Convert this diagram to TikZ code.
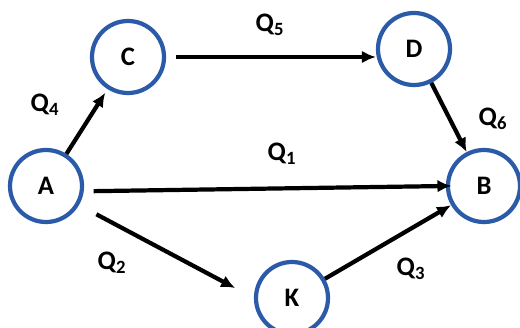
\documentclass[tikz,border=0pt]{standalone}
\usepackage{fontspec}
\setmainfont{Carlito}
\usepackage{tikz}
\usetikzlibrary{arrows.meta,positioning}
\definecolor{RingBlue}{HTML}{2B5AA8}

\begin{document}
\begin{tikzpicture}[
    x=0.025cm, y=-0.025cm,
    >={Latex[length=10pt,width=9pt]},
    every node/.style={font=\fontsize{19}{21}\selectfont\bfseries},
    vertex/.style={draw=RingBlue, circle, line width=3pt, minimum size=1.8cm, inner sep=0pt},
    flow/.style={->, line width=3pt},
    qlabel/.style={inner sep=0pt}
]
\useasboundingbox (0,0) rectangle (520,328);
\node[vertex] (a) at (46,186) {A};
\node[vertex] (c) at (128,57) {C};
\node[vertex] (d) at (414,49) {D};
\node[vertex] (b) at (484,186) {B};
\node[vertex] (k) at (292,298) {K};

\draw[flow, shorten >=3pt] (a) -- (c);
\draw[flow, shorten <=7pt] (c.east) -- (c.east -| d.west);
\draw[flow] (d) -- (b);
\draw[flow, shorten <=7pt, shorten >=-4pt] (a.-8) -- (b.west);
\draw[flow, shorten <=14pt, shorten >=15pt] (a.-30) -- (k.west);
\draw[flow] (k) -- (b);

\node[qlabel] (q4) at (45,105) {Q\textsubscript{4}};
\node[qlabel] (q5) at (270,25) {Q\textsubscript{5}};
\node[qlabel] (q1) at (282,154) {Q\textsubscript{1}};
\node[qlabel] (q6) at (493,119) {Q\textsubscript{6}};
\node[qlabel] (q2) at (112,263) {Q\textsubscript{2}};
\node[qlabel] (q3) at (411,269) {Q\textsubscript{3}};
\end{tikzpicture}
\end{document}
